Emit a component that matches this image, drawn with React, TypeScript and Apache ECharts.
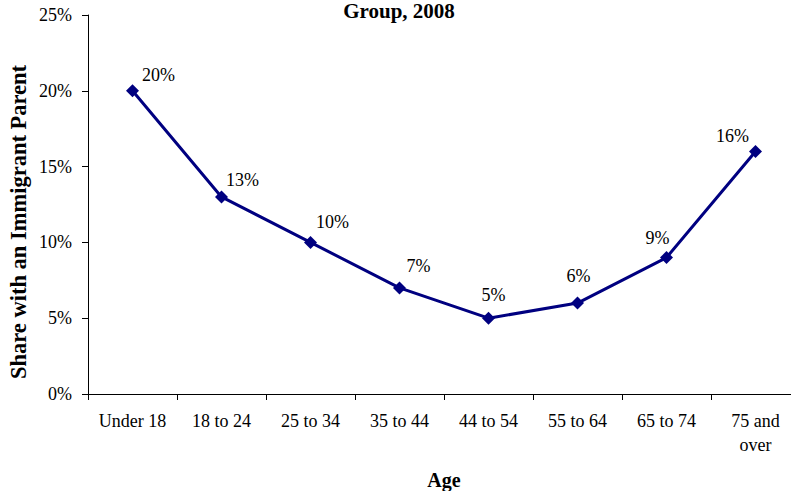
import React, { useEffect, useRef } from "react";
import * as echarts from "echarts";

const categories = ["Under 18", "18 to 24", "25 to 34", "35 to 44", "44 to 54", "55 to 64", "65 to 74", "75 and\nover"];
const shares = [20, 13, 10, 7, 5, 6, 9, 16];
const yTicks = [0, 5, 10, 15, 20, 25];
const titleText = "Group, 2008";
const yAxisTitle = "Share with an Immigrant Parent";
const xAxisTitle = "Age";
const labelOffsets = [[26, -16], [21, -17], [22, -20], [19, -22], [5, -23], [1, -27], [-9, -20], [-23, -15]];

const FONT = "'Liberation Serif', 'Times New Roman', serif";

export default function App() {
  const ref = useRef<HTMLDivElement>(null);
  useEffect(() => {
    if (!ref.current) return;
    const chart = echarts.init(ref.current, undefined, { renderer: "svg" });
    chart.setOption({
      animation: false,
      backgroundColor: "#ffffff",
      graphic: [
        {
          type: "text",
          x: 399,
          y: 11,
          style: {
            text: titleText,
            fontFamily: FONT,
            fontSize: 21,
            fontWeight: "bold",
            fill: "#000",
            textAlign: "center",
            textVerticalAlign: "middle",
          },
        },
        {
          type: "text",
          x: 18,
          y: 222,
          rotation: Math.PI / 2,
          style: {
            text: yAxisTitle,
            fontFamily: FONT,
            fontSize: 22.5,
            fontWeight: "bold",
            fill: "#000",
            textAlign: "center",
            textVerticalAlign: "middle",
          },
        },
        {
          type: "text",
          x: 444,
          y: 480,
          style: {
            text: xAxisTitle,
            fontFamily: FONT,
            fontSize: 20,
            fontWeight: "bold",
            fill: "#000",
            textAlign: "center",
            textVerticalAlign: "middle",
          },
        },
      ],
      grid: { left: 88, top: 15, width: 712, height: 379, containLabel: false },
      xAxis: {
        type: "category",
        data: categories,
        boundaryGap: true,
        axisLine: { show: true, lineStyle: { color: "#000", width: 1 } },
        axisTick: { show: true, length: 6, alignWithLabel: false, lineStyle: { color: "#000" } },
        axisLabel: { fontFamily: FONT, fontSize: 18, color: "#000", margin: 15, lineHeight: 24, interval: 0 },
        splitLine: { show: false },
      },
      yAxis: {
        type: "value",
        min: yTicks[0],
        max: yTicks[yTicks.length - 1],
        interval: yTicks[1] - yTicks[0],
        axisLine: { show: true, lineStyle: { color: "#000", width: 1 } },
        axisTick: { show: true, length: 6, lineStyle: { color: "#000" } },
        axisLabel: { fontFamily: FONT, fontSize: 18, color: "#000", margin: 16, formatter: "{value}%" },
        splitLine: { show: false },
      },
      series: [
        {
          type: "line",
          data: shares.map((v, i) => ({
            value: v,
            label: { offset: labelOffsets[i] },
          })),
          symbol: "diamond",
          symbolSize: 13,
          lineStyle: { color: "#000080", width: 3 },
          itemStyle: { color: "#000080" },
          label: {
            show: true,
            position: "inside",
            formatter: "{c}%",
            fontFamily: FONT,
            fontSize: 18,
            color: "#000",
            align: "center",
            verticalAlign: "middle",
          },
        },
      ],
    });
    return () => chart.dispose();
  }, []);
  return <div ref={ref} style={{ position: "fixed", left: 0, top: 0, width: 820, height: 491 }} />;
}
